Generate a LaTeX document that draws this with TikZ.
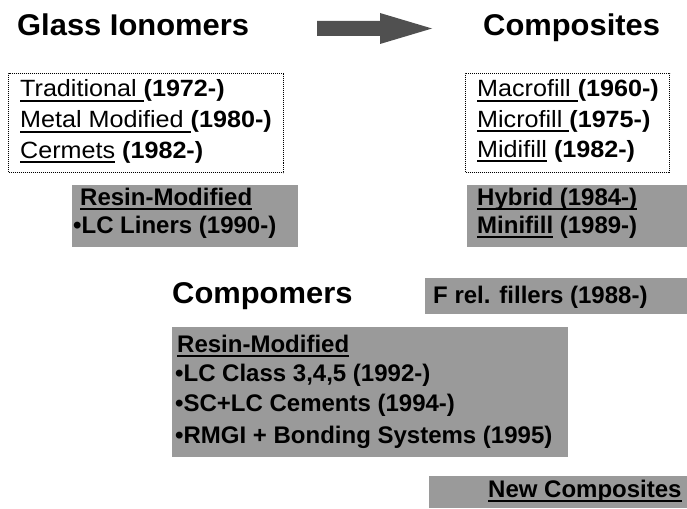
\documentclass[tikz,border=0pt]{standalone}
\usepackage{fontspec}
\setmainfont{Liberation Sans}
\newfontfamily\ttlfont[FakeStretch=1.03]{Liberation Sans}
\newfontfamily\lstfont[FakeStretch=1.07]{Liberation Sans}
\newsavebox{\undlbox}
\newcommand{\undl}[1]{\sbox{\undlbox}{#1}\rlap{\rule[-5pt]{\wd\undlbox}{1.6pt}}\usebox{\undlbox}}
\definecolor{shadegray}{HTML}{9A9A9A}
\definecolor{arrowgray}{HTML}{505050}
\tikzset{
  ttl/.style={anchor=base west, inner sep=0pt, font=\ttlfont\bfseries\fontsize{30}{36}\selectfont},
  lst/.style={anchor=base west, inner sep=0pt, font=\lstfont\fontsize{23.5}{28}\selectfont},
  shd/.style={anchor=base west, inner sep=0pt, font=\bfseries\fontsize{24}{28}\selectfont},
  dotbox/.style={draw, densely dotted, line width=1pt, anchor=north west, inner sep=0pt},
  shadebox/.style={fill=shadegray, draw=none, anchor=north west, inner sep=0pt},
}
\begin{document}
\begin{tikzpicture}[x=1pt, y=-1pt]
\useasboundingbox (0,0) rectangle (687,508);
% titles
\node[ttl] (gi) at (17,36) {Glass Ionomers};
\node[ttl] (comp) at (483,36) {Composites};
\node[ttl] (cpm) at (172,303) {Compomers};
% block arrow
\fill[arrowgray] (317,21) -- (380,21) -- (380,13) -- (432,28.5) -- (380,44) -- (380,36) -- (317,36) -- cycle;
% dotted boxes
\node[dotbox, minimum width=275pt, minimum height=99pt] (lbox) at (8,73) {};
\node[dotbox, minimum width=204pt, minimum height=99pt] (rbox) at (465,73) {};
% shaded boxes
\node[shadebox, minimum width=226pt, minimum height=62pt] (resinbox) at (72,185) {};
\node[shadebox, minimum width=220pt, minimum height=62pt] (hybbox) at (467,185) {};
\node[shadebox, minimum width=262pt, minimum height=36pt] (frelbox) at (425,278) {};
\node[shadebox, minimum width=396pt, minimum height=130pt] (bigbox) at (172,327) {};
\node[shadebox, minimum width=258pt, minimum height=32pt] (newbox) at (429,476) {};
% left list
\node[lst] (l1) at (20,97) {\undl{Traditional\ }\textbf{(1972-)}};
\node[lst] (l2) at (20,128) {\undl{Metal Modified\ }\textbf{(1980-)}};
\node[lst] (l3) at (20,158) {\undl{Cermets}\ \textbf{(1982-)}};
% right list
\node[lst] (r1) at (477,97) {\undl{Macrofill\ }\textbf{(1960-)}};
\node[lst] (r2) at (477,127) {\undl{Microfill\ }\textbf{(1975-)}};
\node[lst] (r3) at (477,157) {\undl{Midifill}\ \textbf{(1982-)}};
% shaded texts
\node[shd] (rm1) at (80,205) {\undl{Resin-Modified}};
\node[shd] (lcl) at (73,233) {•LC Liners (1990-)};
\node[shd] (hyb) at (477,205) {\undl{Hybrid (1984-)}};
\node[shd] (mini) at (477,233) {\undl{Minifill}\ (1989-)};
\node[shd] (frel) at (433,303) {F rel. fillers (1988-)};
\node[shd] (rm2) at (177,352) {\undl{Resin-Modified}};
\node[shd] (b1) at (175,381) {•LC Class 3,4,5 (1992-)};
\node[shd] (b2) at (175,411) {•SC+LC Cements (1994-)};
\node[shd] (b3) at (175,443) {•RMGI + Bonding Systems (1995)};
\node[shd] (nc) at (488,497) {\undl{New Composites}};
\end{tikzpicture}
\end{document}
